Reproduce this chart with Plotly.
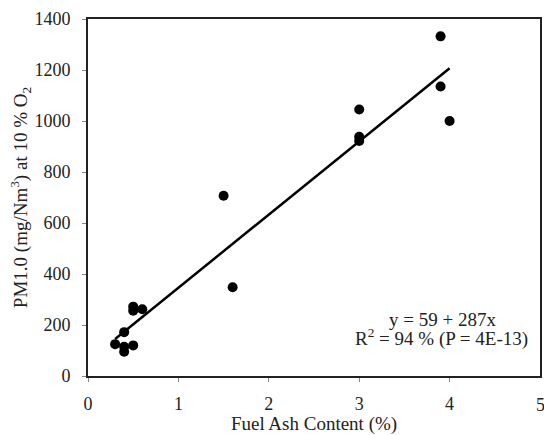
import plotly.graph_objects as go

ash = [0.3, 0.4, 0.4, 0.5, 0.4, 0.5, 0.5, 0.6, 1.5, 1.6, 3.0, 3.0, 3.0, 3.9, 3.9, 4.0]
pm = [125, 95, 115, 120, 172, 272, 256, 262, 707, 348, 1045, 938, 922, 1332, 1135, 1000]
fit_intercept = 59
fit_slope = 287
fit_x = [0.3, 4.0]
fit_y = [fit_intercept + fit_slope * v for v in fit_x]
x_ticks = [0, 1, 2, 3, 4, 5]
y_ticks = list(range(0, 1401, 200))

font = "Liberation Serif, Times New Roman, serif"

fig = go.Figure()
fig.add_trace(go.Scatter(x=fit_x, y=fit_y, mode="lines",
                         line=dict(color="black", width=2.5), showlegend=False))
fig.add_trace(go.Scatter(x=ash, y=pm, mode="markers",
                         marker=dict(color="black", size=10), showlegend=False))

fig.update_layout(
    width=544, height=435,
    margin=dict(l=88, r=2, t=19, b=59),
    plot_bgcolor="white", paper_bgcolor="white",
    font=dict(family=font, size=18, color="#222"),
    xaxis=dict(range=[0, 5], tickvals=x_ticks[:-1], showgrid=False, zeroline=False,
               showline=True, linecolor="#222", linewidth=2, mirror=True,
               ticks="outside", ticklen=4, tickcolor="#888", tickwidth=1,
               tickfont=dict(size=18), ticklabelstandoff=6,
               title=dict(text="Fuel Ash Content (%)", standoff=0, font=dict(size=19))),
    yaxis=dict(range=[0, 1400], tickvals=y_ticks, showgrid=False, zeroline=False,
               showline=True, linecolor="#222", linewidth=2, mirror=True,
               ticks="outside", ticklen=4, tickcolor="#888", tickwidth=1,
               tickfont=dict(size=18), ticklabelstandoff=8,
               title=dict(text="PM1.0 (mg/Nm<sup>3</sup>) at 10 % O<sub>2</sub>", standoff=2,
                          font=dict(size=19))),
    annotations=[
        dict(x=x_ticks[-1], y=0, xref="x", yref="paper", text=str(x_ticks[-1]),
             showarrow=False, xanchor="center", yanchor="top", yshift=-17,
             font=dict(size=18)),
        dict(x=0.784, y=0.157, xref="paper", yref="paper", text="y = 59 + 287x",
             showarrow=False, xanchor="center", yanchor="middle", font=dict(size=19)),
        dict(x=0.978, y=0.107, xref="paper", yref="paper",
             text="R<sup>2</sup> = 94 % (P = 4E-13)",
             showarrow=False, xanchor="right", yanchor="middle", font=dict(size=19)),
    ],
)
fig.write_html("out.html")
